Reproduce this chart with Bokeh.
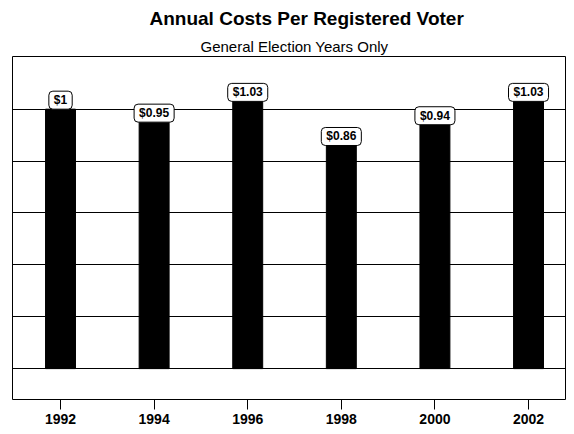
from bokeh.plotting import figure
from bokeh.models import ColumnDataSource, FixedTicker, Title, Range1d
from bokeh.core.properties import value
from bokeh.embed import file_html
from bokeh.resources import INLINE

years = [1992, 1994, 1996, 1998, 2000, 2002]
costs = [1.00, 0.95, 1.03, 0.86, 0.94, 1.03]
cost_labels = ["$1", "$0.95", "$1.03", "$0.86", "$0.94", "$1.03"]
tick_labels = ["1992", "1994", "1996", "1998", "2000", "2002"]
grid_values = [0.0, 0.2, 0.4, 0.6, 0.8, 1.0]

src = ColumnDataSource(data=dict(x=years, top=costs, label=cost_labels))

p = figure(width=566, height=426, output_backend="svg", toolbar_location=None,
           x_range=Range1d(1990.974, 2002.79), y_range=Range1d(-0.119, 1.203),
           min_border_left=12, min_border_right=1, min_border_top=55, min_border_bottom=27)

p.add_layout(Title(text="General Election Years Only", align="left", offset=188,
                   text_font="Liberation Sans", text_font_size="15px",
                   text_font_style="normal", text_color="black", standoff=4), "above")
p.add_layout(Title(text="Annual Costs Per Registered Voter", align="left", offset=137,
                   text_font="Liberation Sans", text_font_size="19px",
                   text_font_style="bold", text_color="black", standoff=10), "above")

p.vbar(x="x", top="top", bottom=0, width=0.64, source=src,
       fill_color="black", line_color="black")

p.text(x="x", y="top", text="label", source=src,
       text_font=value("Liberation Sans"), text_font_size="12px", text_font_style="bold",
       text_color="black", anchor="bottom_center", text_align="center", text_baseline="middle",
       padding=(5, 2), border_radius=4,
       background_fill_color="white", border_line_color="black", border_line_width=1)

p.outline_line_color = "black"
p.outline_line_width = 1
p.background_fill_color = "white"
p.border_fill_color = "white"

p.xgrid.visible = False
p.ygrid.ticker = FixedTicker(ticks=grid_values)
p.ygrid.grid_line_color = "black"
p.ygrid.grid_line_width = 1
p.ygrid.level = "underlay"
p.yaxis.visible = False

ax = p.xaxis[0]
ax.ticker = FixedTicker(ticks=years)
ax.major_label_overrides = {y: t for y, t in zip(years, tick_labels)}
ax.axis_line_color = None
ax.major_tick_in = 0
ax.major_tick_out = 10
ax.major_tick_line_color = "black"
ax.minor_tick_line_color = None
ax.major_label_standoff = 4
ax.major_label_text_font = "Liberation Sans"
ax.major_label_text_font_size = "14px"
ax.major_label_text_font_style = "bold"
ax.major_label_text_color = "black"

open("out.html", "w").write(file_html(p, INLINE))
